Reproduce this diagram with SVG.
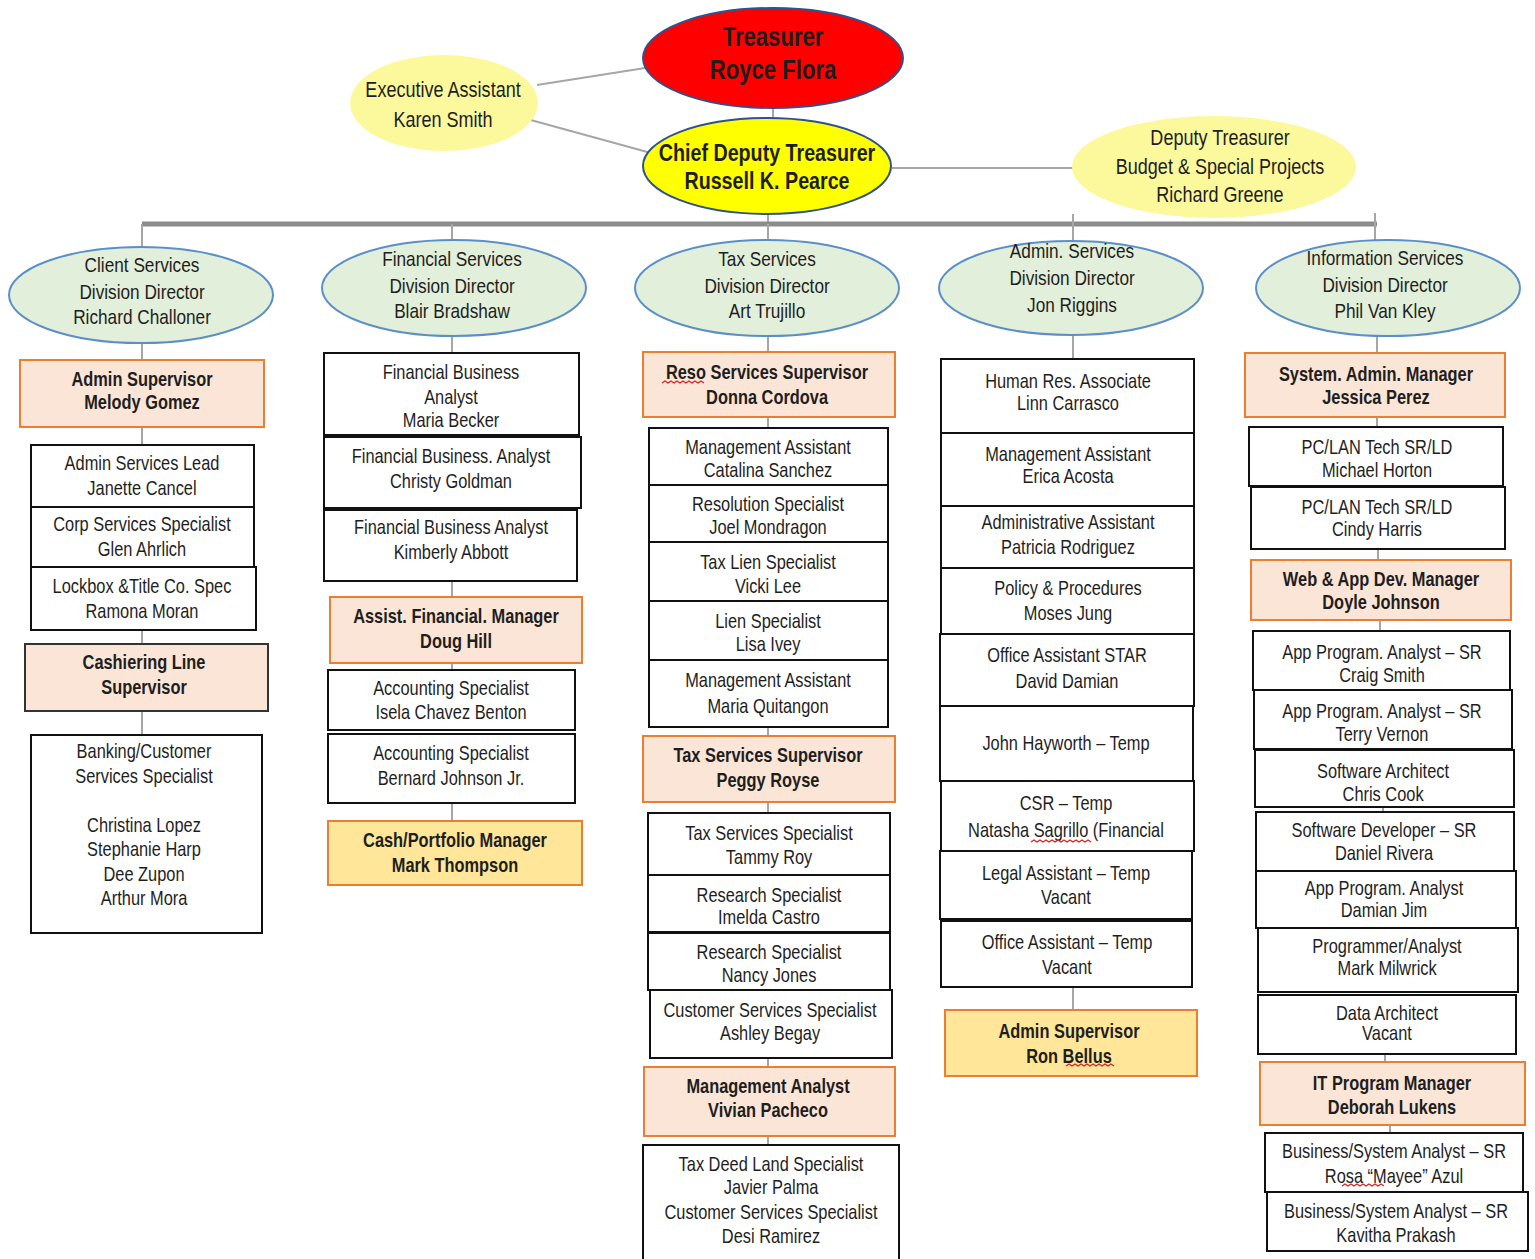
<svg xmlns="http://www.w3.org/2000/svg" width="1535" height="1259" viewBox="0 0 1535 1259">
<style>
text{font-family:"Liberation Sans Narrow","Arial Narrow","Liberation Sans",Arial,sans-serif;fill:#1e1e1e;text-anchor:middle;font-size:20px;transform-box:fill-box;transform-origin:center;transform:scaleX(.82)}
.b{font-weight:bold}
.dv{font-size:21px}
.ty{font-size:22px}
.box{fill:#fff;stroke:#111;stroke-width:2}
.sup{fill:#fbe5d6;stroke:#ed7d31;stroke-width:2}
.gold{fill:#ffe699;stroke:#ed7d31;stroke-width:2}
.dark{fill:#fbe5d6;stroke:#333;stroke-width:2}
.div{fill:#e2efda;stroke:#5b8fc7;stroke-width:2}
.ly{fill:#fbf99c}
.conn path{fill:none;stroke:#a6a6a6;stroke-width:2}
.sq{fill:none;stroke:#e02020;stroke-width:1.3}
</style>
<rect width="1535" height="1259" fill="#fff"/>
<g class="conn" id="connectors">
<path d="M537,85 L645,68"/>
<path d="M527,119 L651,153"/>
<path d="M773,108 V118"/>
<path d="M892,168 H1073"/>
<path d="M768,213 V224"/>
<path d="M142,224 H1377" style="stroke:#8c8c8c;stroke-width:5"/>
<path d="M142,224 V247"/><path d="M452,224 V240"/><path d="M768,224 V240"/><path d="M1073,214 V240"/><path d="M1375,213 V240"/>
<path d="M142,343 V360"/><path d="M142,427 V445"/><path d="M142,630 V644"/><path d="M142,711 V735"/>
<path d="M452,336 V353"/><path d="M452,581 V597"/><path d="M452,663 V670"/><path d="M452,803 V821"/>
<path d="M768,336 V352"/><path d="M768,417 V428"/><path d="M768,727 V736"/><path d="M768,802 V813"/><path d="M768,1058 V1067"/><path d="M768,1136 V1145"/>
<path d="M1073,334 V359"/><path d="M1073,987 V1010"/>
<path d="M1377,336 V353"/><path d="M1377,417 V427"/><path d="M1378,549 V560"/><path d="M1380,620 V631"/><path d="M1383,807 V812"/><path d="M1385,1054 V1062"/><path d="M1390,1125 V1133"/>
</g>

<g id="treasurer"><ellipse cx="773" cy="58" rx="130" ry="50" fill="#ff0000" stroke="#2f528f" stroke-width="2"/>
<text x="773" y="46" class="b" style="font-size:27px">Treasurer</text><text x="773" y="79" class="b" style="font-size:27px">Royce Flora</text></g>
<g id="exec-assistant"><ellipse cx="444" cy="103" rx="94" ry="48" class="ly"/>
<text x="443" y="97" class="ty">Executive Assistant</text><text x="443" y="127" class="ty">Karen Smith</text></g>
<g id="chief-deputy"><ellipse cx="767" cy="166" rx="124" ry="48" fill="#ffff00" stroke="#2f528f" stroke-width="2"/>
<text x="767" y="161.5" class="b" style="font-size:24px">Chief Deputy Treasurer</text><text x="767" y="189.5" class="b" style="font-size:24px">Russell K. Pearce</text></g>
<g id="deputy-treasurer"><ellipse cx="1214" cy="167" rx="142" ry="51" class="ly"/>
<text x="1220" y="145" class="ty">Deputy Treasurer</text><text x="1220" y="174" class="ty">Budget &amp; Special Projects</text><text x="1220" y="202" class="ty">Richard Greene</text></g>

<g id="div-client"><ellipse cx="141" cy="295" rx="132" ry="48" class="div"/>
<text x="142" y="272.5" class="dv">Client Services</text><text x="142" y="299.5" class="dv">Division Director</text><text x="142" y="324.5" class="dv">Richard Challoner</text></g>
<g id="div-financial"><ellipse cx="454" cy="288" rx="132" ry="48" class="div"/>
<text x="452" y="266.5" class="dv">Financial Services</text><text x="452" y="293.5" class="dv">Division Director</text><text x="452" y="318.5" class="dv">Blair Bradshaw</text></g>
<g id="div-tax"><ellipse cx="767" cy="288" rx="132" ry="48" class="div"/>
<text x="767" y="266.5" class="dv">Tax Services</text><text x="767" y="293.5" class="dv">Division Director</text><text x="767" y="318.5" class="dv">Art Trujillo</text></g>
<g id="div-admin"><ellipse cx="1071" cy="288" rx="132" ry="47" class="div"/>
<text x="1072" y="258.5" class="dv">Admin. Services</text><text x="1072" y="285.5" class="dv">Division Director</text><text x="1072" y="312.5" class="dv">Jon Riggins</text></g>
<g id="div-info"><ellipse cx="1388" cy="288" rx="132" ry="48" class="div"/>
<text x="1385" y="265.5" class="dv">Information Services</text><text x="1385" y="292.5" class="dv">Division Director</text><text x="1385" y="318.5" class="dv">Phil Van Kley</text></g>

<!-- Column 1 -->
<g id="melody-gomez"><rect x="20" y="360" width="244" height="67" class="sup"/><text x="142" y="386" class="b">Admin Supervisor</text><text x="142" y="409" class="b">Melody Gomez</text></g>
<g id="janette-cancel"><rect x="31" y="445" width="223" height="62" class="box"/><text x="142" y="470">Admin Services Lead</text><text x="142" y="495">Janette Cancel</text></g>
<g id="glen-ahrlich"><rect x="31" y="507" width="223" height="60" class="box"/><text x="142" y="531">Corp Services Specialist</text><text x="142" y="556">Glen Ahrlich</text></g>
<g id="ramona-moran"><rect x="31" y="567" width="225" height="63" class="box"/><text x="142" y="593">Lockbox &amp;Title Co. Spec</text><text x="142" y="618">Ramona Moran</text></g>
<g id="cashiering"><rect x="25" y="644" width="243" height="67" class="dark"/><text x="144" y="669" class="b">Cashiering Line</text><text x="144" y="694" class="b">Supervisor</text></g>
<g id="banking"><rect x="31" y="735" width="231" height="198" class="box"/><text x="144" y="758">Banking/Customer</text><text x="144" y="783">Services Specialist</text><text x="144" y="832">Christina Lopez</text><text x="144" y="856">Stephanie Harp</text><text x="144" y="881">Dee Zupon</text><text x="144" y="905">Arthur Mora</text></g>

<!-- Column 2 -->
<g id="maria-becker"><rect x="324" y="353" width="255" height="82" class="box"/><text x="451" y="379">Financial Business</text><text x="451" y="404">Analyst</text><text x="451" y="427">Maria Becker</text></g>
<g id="christy-goldman"><rect x="324" y="437" width="257" height="71" class="box"/><text x="451" y="463">Financial Business. Analyst</text><text x="451" y="488">Christy Goldman</text></g>
<g id="kimberly-abbott"><rect x="324" y="510" width="253" height="71" class="box"/><text x="451" y="534">Financial Business Analyst</text><text x="451" y="559">Kimberly Abbott</text></g>
<g id="doug-hill"><rect x="330" y="597" width="252" height="66" class="sup"/><text x="456" y="623" class="b">Assist. Financial. Manager</text><text x="456" y="648" class="b">Doug Hill</text></g>
<g id="isela-chavez-benton"><rect x="328" y="670" width="247" height="60" class="box"/><text x="451" y="695">Accounting Specialist</text><text x="451" y="719">Isela Chavez Benton</text></g>
<g id="bernard-johnson"><rect x="328" y="734" width="247" height="69" class="box"/><text x="451" y="760">Accounting Specialist</text><text x="451" y="785">Bernard Johnson Jr.</text></g>
<g id="mark-thompson"><rect x="328" y="821" width="254" height="64" class="gold"/><text x="455" y="847" class="b">Cash/Portfolio Manager</text><text x="455" y="872" class="b">Mark Thompson</text></g>

<!-- Column 3 -->
<g id="donna-cordova"><rect x="643" y="352" width="252" height="65" class="sup"/><text x="767" y="379" class="b">Reso Services Supervisor</text><text x="767" y="404" class="b">Donna Cordova</text></g>
<g id="catalina-sanchez"><rect x="649" y="428" width="239" height="57" class="box"/><text x="768" y="454">Management Assistant</text><text x="768" y="477">Catalina Sanchez</text></g>
<g id="joel-mondragon"><rect x="649" y="485" width="239" height="57" class="box"/><text x="768" y="511">Resolution Specialist</text><text x="768" y="534">Joel Mondragon</text></g>
<g id="vicki-lee"><rect x="649" y="542" width="239" height="59" class="box"/><text x="768" y="569">Tax Lien Specialist</text><text x="768" y="593">Vicki Lee</text></g>
<g id="lisa-ivey"><rect x="649" y="601" width="239" height="59" class="box"/><text x="768" y="628">Lien Specialist</text><text x="768" y="651">Lisa Ivey</text></g>
<g id="maria-quitangon"><rect x="649" y="660" width="239" height="67" class="box"/><text x="768" y="687">Management Assistant</text><text x="768" y="713">Maria Quitangon</text></g>
<g id="peggy-royse"><rect x="643" y="736" width="252" height="66" class="sup"/><text x="768" y="762" class="b">Tax Services Supervisor</text><text x="768" y="787" class="b">Peggy Royse</text></g>
<g id="tammy-roy"><rect x="648" y="813" width="242" height="62" class="box"/><text x="769" y="840">Tax Services Specialist</text><text x="769" y="864">Tammy Roy</text></g>
<g id="imelda-castro"><rect x="648" y="875" width="242" height="57" class="box"/><text x="769" y="902">Research Specialist</text><text x="769" y="924">Imelda Castro</text></g>
<g id="nancy-jones"><rect x="648" y="933" width="242" height="57" class="box"/><text x="769" y="959">Research Specialist</text><text x="769" y="982">Nancy Jones</text></g>
<g id="ashley-begay"><rect x="650" y="990" width="242" height="68" class="box"/><text x="770" y="1017">Customer Services Specialist</text><text x="770" y="1040">Ashley Begay</text></g>
<g id="vivian-pacheco"><rect x="644" y="1067" width="251" height="69" class="sup"/><text x="768" y="1093" class="b">Management Analyst</text><text x="768" y="1117" class="b">Vivian Pacheco</text></g>
<g id="javier-desi"><rect x="643" y="1145" width="256" height="120" class="box"/><text x="771" y="1171">Tax Deed Land Specialist</text><text x="771" y="1194">Javier Palma</text><text x="771" y="1219">Customer Services Specialist</text><text x="771" y="1243">Desi Ramirez</text></g>

<!-- Column 4 -->
<g id="linn-carrasco"><rect x="941" y="359" width="253" height="74" class="box"/><text x="1068" y="388">Human Res. Associate</text><text x="1068" y="410">Linn Carrasco</text></g>
<g id="erica-acosta"><rect x="941" y="433" width="253" height="73" class="box"/><text x="1068" y="461">Management Assistant</text><text x="1068" y="483">Erica Acosta</text></g>
<g id="patricia-rodriguez"><rect x="941" y="506" width="253" height="62" class="box"/><text x="1068" y="529">Administrative Assistant</text><text x="1068" y="554">Patricia Rodriguez</text></g>
<g id="moses-jung"><rect x="941" y="568" width="253" height="66" class="box"/><text x="1068" y="595">Policy &amp; Procedures</text><text x="1068" y="620">Moses Jung</text></g>
<g id="david-damian"><rect x="940" y="634" width="254" height="72" class="box"/><text x="1067" y="662">Office Assistant STAR</text><text x="1067" y="688">David Damian</text></g>
<g id="john-hayworth"><rect x="940" y="706" width="253" height="75" class="box"/><text x="1066" y="750">John Hayworth – Temp</text></g>
<g id="natasha-sagrillo"><rect x="941" y="781" width="253" height="70" class="box"/><text x="1066" y="810">CSR – Temp</text><text x="1066" y="837">Natasha Sagrillo (Financial</text></g>
<g id="legal-assistant"><rect x="940" y="851" width="252" height="68" class="box"/><text x="1066" y="880">Legal Assistant – Temp</text><text x="1066" y="904">Vacant</text></g>
<g id="office-assistant-temp"><rect x="941" y="921" width="251" height="66" class="box"/><text x="1067" y="949">Office Assistant – Temp</text><text x="1067" y="974">Vacant</text></g>
<g id="ron-bellus"><rect x="945" y="1010" width="252" height="66" class="gold"/><text x="1069" y="1038" class="b">Admin Supervisor</text><text x="1069" y="1063" class="b">Ron Bellus</text></g>

<!-- Column 5 -->
<g id="jessica-perez"><rect x="1245" y="353" width="260" height="64" class="sup"/><text x="1376" y="381" class="b">System. Admin. Manager</text><text x="1376" y="404" class="b">Jessica Perez</text></g>
<g id="michael-horton"><rect x="1249" y="427" width="254" height="59" class="box"/><text x="1377" y="454">PC/LAN Tech SR/LD</text><text x="1377" y="477">Michael Horton</text></g>
<g id="cindy-harris"><rect x="1251" y="487" width="254" height="62" class="box"/><text x="1377" y="514">PC/LAN Tech SR/LD</text><text x="1377" y="536">Cindy Harris</text></g>
<g id="doyle-johnson"><rect x="1251" y="560" width="260" height="60" class="sup"/><text x="1381" y="586" class="b">Web &amp; App Dev. Manager</text><text x="1381" y="609" class="b">Doyle Johnson</text></g>
<g id="craig-smith"><rect x="1253" y="631" width="257" height="59" class="box"/><text x="1382" y="659">App Program. Analyst – SR</text><text x="1382" y="682">Craig Smith</text></g>
<g id="terry-vernon"><rect x="1254" y="690" width="258" height="59" class="box"/><text x="1382" y="718">App Program. Analyst – SR</text><text x="1382" y="741">Terry Vernon</text></g>
<g id="chris-cook"><rect x="1255" y="750" width="259" height="57" class="box"/><text x="1383" y="778">Software Architect</text><text x="1383" y="801">Chris Cook</text></g>
<g id="daniel-rivera"><rect x="1256" y="812" width="258" height="59" class="box"/><text x="1384" y="837">Software Developer – SR</text><text x="1384" y="860">Daniel Rivera</text></g>
<g id="damian-jim"><rect x="1256" y="871" width="260" height="57" class="box"/><text x="1384" y="895">App Program. Analyst</text><text x="1384" y="917">Damian Jim</text></g>
<g id="mark-milwrick"><rect x="1258" y="928" width="260" height="64" class="box"/><text x="1387" y="953">Programmer/Analyst</text><text x="1387" y="975">Mark Milwrick</text></g>
<g id="data-architect"><rect x="1258" y="995" width="258" height="59" class="box"/><text x="1387" y="1020">Data Architect</text><text x="1387" y="1040">Vacant</text></g>
<g id="deborah-lukens"><rect x="1260" y="1062" width="265" height="63" class="sup"/><text x="1392" y="1090" class="b">IT Program Manager</text><text x="1392" y="1114" class="b">Deborah Lukens</text></g>
<g id="rosa-azul"><rect x="1265" y="1133" width="258" height="59" class="box"/><text x="1394" y="1158">Business/System Analyst – SR</text><text x="1394" y="1183">Rosa “Mayee” Azul</text></g>
<g id="kavitha-prakash"><rect x="1267" y="1192" width="261" height="59" class="box"/><text x="1396" y="1218">Business/System Analyst – SR</text><text x="1396" y="1242">Kavitha Prakash</text></g>

<g id="spelling-marks">
<path class="sq" d="M662,383 l3,-2 l3,2 l3,-2 l3,2 l3,-2 l3,2 l3,-2 l3,2 l3,-2 l3,2 l3,-2 l3,2 l3,-2 l3,2"/>
<path class="sq" d="M1031,842 l3,-2 l3,2 l3,-2 l3,2 l3,-2 l3,2 l3,-2 l3,2 l3,-2 l3,2 l3,-2 l3,2 l3,-2 l3,2 l3,-2 l3,2 l3,-2 l3,2 l3,-2 l3,2"/>
<path class="sq" d="M1066,1066 l3,-2 l3,2 l3,-2 l3,2 l3,-2 l3,2 l3,-2 l3,2 l3,-2 l3,2 l3,-2 l3,2 l3,-2 l3,2 l3,-2 l3,2"/>
<path class="sq" d="M1342,1186 l3,-2 l3,2 l3,-2 l3,2 l3,-2 l3,2 l3,-2 l3,2 l3,-2 l3,2 l3,-2 l3,2 l3,-2 l3,2"/>
</g>
</svg>
